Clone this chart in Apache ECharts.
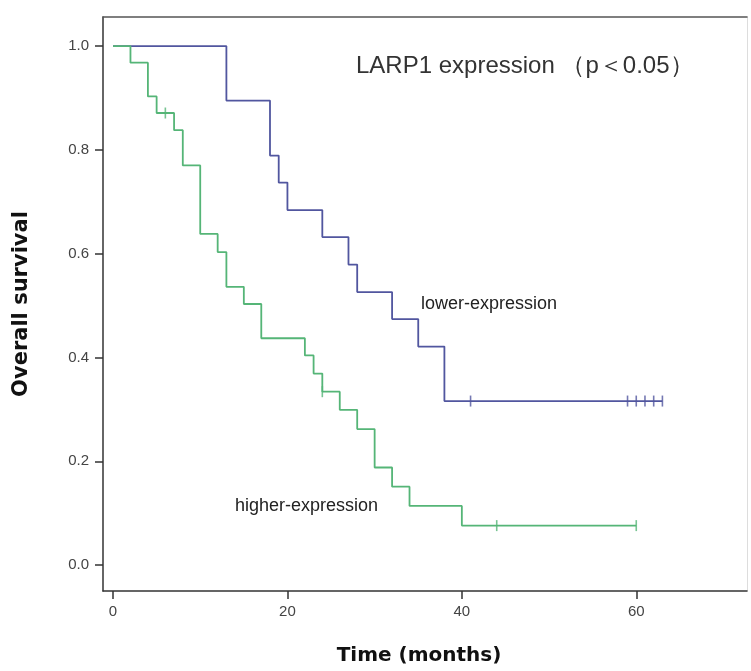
<!DOCTYPE html>
<html>
<head>
<meta charset="utf-8">
<script src="https://cdn.jsdelivr.net/npm/echarts@6/dist/echarts.min.js"></script>
<style>
  html, body { margin: 0; padding: 0; background: #fff; }
  #chart { width: 751px; height: 671px; }
</style>
</head>
<body>
<div id="chart"></div>
<script>
// lower-expression group (Kaplan-Meier steps)
let lowerTimes = [0, 13, 18, 19, 20, 24, 27, 28, 32, 35, 38, 63];
let lowerSurv = [1.0, 0.895, 0.789, 0.737, 0.684, 0.632, 0.579, 0.526, 0.474, 0.421, 0.316, 0.316];
let lowerCensorTimes = [41, 59, 60, 61, 62, 63];
let lowerCensorSurv = [0.316, 0.316, 0.316, 0.316, 0.316, 0.316];

// higher-expression group
let higherTimes = [0, 2, 4, 5, 7, 8, 10, 12, 13, 15, 17, 22, 23, 24, 26, 28, 30, 32, 34, 40, 60];
let higherSurv = [1.0, 0.968, 0.903, 0.871, 0.838, 0.770, 0.638, 0.603, 0.536, 0.503, 0.437, 0.404, 0.369, 0.334, 0.299, 0.262, 0.188, 0.151, 0.114, 0.076, 0.076];
let higherCensorTimes = [6, 24, 44, 60];
let higherCensorSurv = [0.871, 0.334, 0.076, 0.076];

let xTicks = [0, 20, 40, 60];
let yTicks = [0, 0.2, 0.4, 0.6, 0.8, 1.0];

function pairs(xs, ys) {
    let out = [];
    for (let i = 0; i < xs.length; i++) {
        out.push([xs[i], ys[i]]);
    }
    return out;
}

let blue = '#51569f';
let green = '#55b577';
let font = "'Liberation Sans', Arial, sans-serif";

let option = {
    backgroundColor: '#fff',
    animation: false,
    grid: { left: 103, right: 4, top: 17, bottom: 79 },
    xAxis: [
        {
            type: 'value',
            min: -1.15,
            max: 72.7,
            name: 'Time (months)',
            nameLocation: 'middle',
            nameGap: 55,
            nameTextStyle: {
                fontFamily: 'DejaVu Sans', fontWeight: 'bold', fontSize: 20,
                color: '#111', padding: [0, 12, 0, 0]
            },
            splitLine: { show: false },
            axisLine: { onZero: false, lineStyle: { color: '#333', width: 1.5 } },
            axisTick: { show: true, length: 8, customValues: xTicks, lineStyle: { color: '#333', width: 1.5 } },
            axisLabel: {
                customValues: xTicks, margin: 13, color: '#444',
                fontSize: 15, fontFamily: font
            }
        },
        {
            type: 'value',
            position: 'top',
            min: -1.15,
            max: 72.7,
            splitLine: { show: false },
            axisLine: { show: true, onZero: false, lineStyle: { color: '#555', width: 1.5 } },
            axisTick: { show: false },
            axisLabel: { show: false }
        }
    ],
    yAxis: [
        {
            type: 'value',
            min: -0.05,
            max: 1.056,
            name: 'Overall survival',
            nameLocation: 'middle',
            nameGap: 71,
            nameTextStyle: {
                fontFamily: 'DejaVu Sans', fontWeight: 'bold', fontSize: 21, color: '#111'
            },
            splitLine: { show: false },
            axisLine: { show: true, onZero: false, lineStyle: { color: '#333', width: 1.5 } },
            axisTick: { show: true, length: 8, customValues: yTicks, lineStyle: { color: '#333', width: 1.5 } },
            axisLabel: {
                customValues: yTicks, margin: 14, color: '#444',
                fontSize: 15, fontFamily: font,
                formatter: function (v) { return v.toFixed(1); }
            }
        },
        {
            type: 'value',
            position: 'right',
            min: -0.05,
            max: 1.056,
            splitLine: { show: false },
            axisLine: { show: true, onZero: false, lineStyle: { color: '#ddd', width: 1 } },
            axisTick: { show: false },
            axisLabel: { show: false }
        }
    ],
    series: [
        {
            name: 'lower-expression',
            type: 'line',
            step: 'end',
            showSymbol: false,
            data: pairs(lowerTimes, lowerSurv),
            lineStyle: { color: blue, width: 1.8 },
            z: 2
        },
        {
            name: 'higher-expression',
            type: 'line',
            step: 'end',
            showSymbol: false,
            data: pairs(higherTimes, higherSurv),
            lineStyle: { color: green, width: 1.8 },
            z: 3
        },
        {
            name: 'lower censored',
            type: 'scatter',
            symbol: 'rect',
            symbolSize: [1.6, 11],
            data: pairs(lowerCensorTimes, lowerCensorSurv),
            itemStyle: { color: blue },
            z: 4
        },
        {
            name: 'higher censored',
            type: 'scatter',
            symbol: 'rect',
            symbolSize: [1.6, 11],
            data: pairs(higherCensorTimes, higherCensorSurv),
            itemStyle: { color: green },
            z: 4
        }
    ],
    graphic: [
        {
            type: 'text', left: 356, top: 54,
            style: { text: 'LARP1 expression （p＜0.05）', fontSize: 24, fontFamily: font, fill: '#333' }
        },
        {
            type: 'text', left: 421, top: 295,
            style: { text: 'lower-expression', fontSize: 18, fontFamily: font, fill: '#222' }
        },
        {
            type: 'text', left: 235, top: 497,
            style: { text: 'higher-expression', fontSize: 18, fontFamily: font, fill: '#222' }
        }
    ]
};

let chart = echarts.init(document.getElementById('chart'));
chart.setOption(option);
</script>
</body>
</html>
